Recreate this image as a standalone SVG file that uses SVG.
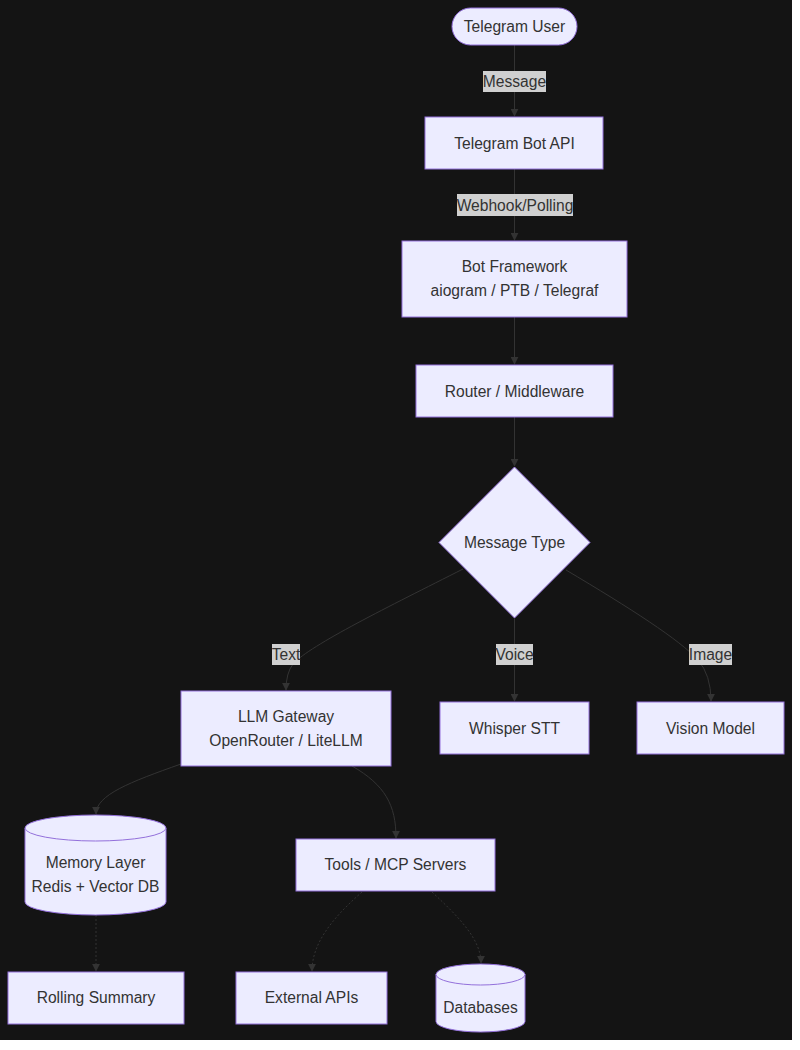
<svg xmlns="http://www.w3.org/2000/svg" width="800" height="1050" viewBox="0 0 800 1050">
<defs>
<style>
.n{fill:#ECECFF;stroke:#9370DB;stroke-width:1}
.t{font-family:"Liberation Sans",Arial,sans-serif;font-size:15.6px;fill:#333;text-anchor:middle;dominant-baseline:central}
.e{fill:none;stroke:#333;stroke-width:1}
.d{stroke-dasharray:2 2}
.lb{fill:#d0d0d0}
</style>
<marker id="ah" viewBox="0 0 10 10" refX="9" refY="5" markerWidth="8" markerHeight="8" orient="auto" markerUnits="userSpaceOnUse">
<path d="M0,0 L10,5 L0,10 z" fill="#333"/>
</marker>
</defs>
<rect x="0" y="0" width="800" height="1050" fill="#ffffff"/>
<rect x="0" y="0" width="792" height="1040" fill="#141414"/>
<g id="connectors">
<path class="e" d="M514.5,45 L514.5,116" marker-end="url(#ah)"/>
<path class="e" d="M514.5,169 L514.5,240" marker-end="url(#ah)"/>
<path class="e" d="M514.5,317 L514.5,364" marker-end="url(#ah)"/>
<path class="e" d="M514.5,417 L514.5,466" marker-end="url(#ah)"/>
<path class="e" d="M463,569 C390,606 310,645 293,664 Q286,673 286,690" marker-end="url(#ah)"/>
<path class="e" d="M514.5,618 L514.5,701" marker-end="url(#ah)"/>
<path class="e" d="M566,570 C630,608 680,640 698,660 Q711,675 711,701" marker-end="url(#ah)"/>
<path class="e" d="M181,764 C130,782 96,795 96,814" marker-end="url(#ah)"/>
<path class="e" d="M352,766 C385,785 396,805 396,838" marker-end="url(#ah)"/>
<path class="e d" d="M96,915 L96,971" marker-end="url(#ah)"/>
<path class="e d" d="M362,892 C330,920 312,945 312,971" marker-end="url(#ah)"/>
<path class="e d" d="M432,892 C460,918 481,940 481,963" marker-end="url(#ah)"/>
<rect class="lb" x="483" y="71" width="63" height="21"/>
<text class="t" x="514.5" y="81">Message</text>
<rect class="lb" x="457" y="194" width="116" height="22"/>
<text class="t" x="515" y="205">Webhook/Polling</text>
<rect class="lb" x="272" y="644" width="28" height="21"/>
<text class="t" x="286" y="654">Text</text>
<rect class="lb" x="496" y="644" width="37" height="21"/>
<text class="t" x="514.5" y="654">Voice</text>
<rect class="lb" x="689" y="644" width="43" height="21"/>
<text class="t" x="710.5" y="654">Image</text>
</g>
<g id="user">
<rect class="n" x="452" y="8" width="125" height="37" rx="18.5" ry="18.5"/>
<text class="t" x="514.5" y="26">Telegram User</text>
</g>
<g id="botapi">
<rect class="n" x="425" y="117" width="178" height="52"/>
<text class="t" x="514.5" y="143">Telegram Bot API</text>
</g>
<g id="framework">
<rect class="n" x="402" y="241" width="225" height="76"/>
<text class="t" x="514.5" y="266">Bot Framework</text>
<text class="t" x="514.5" y="290">aiogram / PTB / Telegraf</text>
</g>
<g id="router">
<rect class="n" x="416" y="365" width="197" height="52"/>
<text class="t" x="514.5" y="391">Router / Middleware</text>
</g>
<g id="msgtype">
<polygon class="n" points="514.5,467 590,542.5 514.5,618 439,542.5"/>
<text class="t" x="514.5" y="542">Message Type</text>
</g>
<g id="llm">
<rect class="n" x="181" y="691" width="210" height="75"/>
<text class="t" x="286" y="716">LLM Gateway</text>
<text class="t" x="286" y="740">OpenRouter / LiteLLM</text>
</g>
<g id="whisper">
<rect class="n" x="440" y="702" width="149" height="52"/>
<text class="t" x="514.5" y="728">Whisper STT</text>
</g>
<g id="vision">
<rect class="n" x="637" y="702" width="147" height="52"/>
<text class="t" x="710.5" y="728">Vision Model</text>
</g>
<g id="memory">
<path class="n" d="M25,828 A70.5,13 0 0 1 166,828 L166,902 A70.5,13 0 0 1 25,902 Z"/>
<path class="n" fill="none" d="M25,828 A70.5,13 0 0 0 166,828"/>
<text class="t" x="95.5" y="862">Memory Layer</text>
<text class="t" x="95.5" y="886">Redis + Vector DB</text>
</g>
<g id="tools">
<rect class="n" x="296" y="839" width="199" height="52"/>
<text class="t" x="395.5" y="864">Tools / MCP Servers</text>
</g>
<g id="rolling">
<rect class="n" x="8" y="972" width="176" height="52"/>
<text class="t" x="96" y="997">Rolling Summary</text>
</g>
<g id="external">
<rect class="n" x="236" y="972" width="151" height="52"/>
<text class="t" x="311.5" y="997">External APIs</text>
</g>
<g id="databases">
<path class="n" d="M436,974.5 A44.5,10.5 0 0 1 525,974.5 L525,1021.5 A44.5,10.5 0 0 1 436,1021.5 Z"/>
<path class="n" fill="none" d="M436,974.5 A44.5,10.5 0 0 0 525,974.5"/>
<text class="t" x="480.5" y="1007">Databases</text>
</g>
</svg>
